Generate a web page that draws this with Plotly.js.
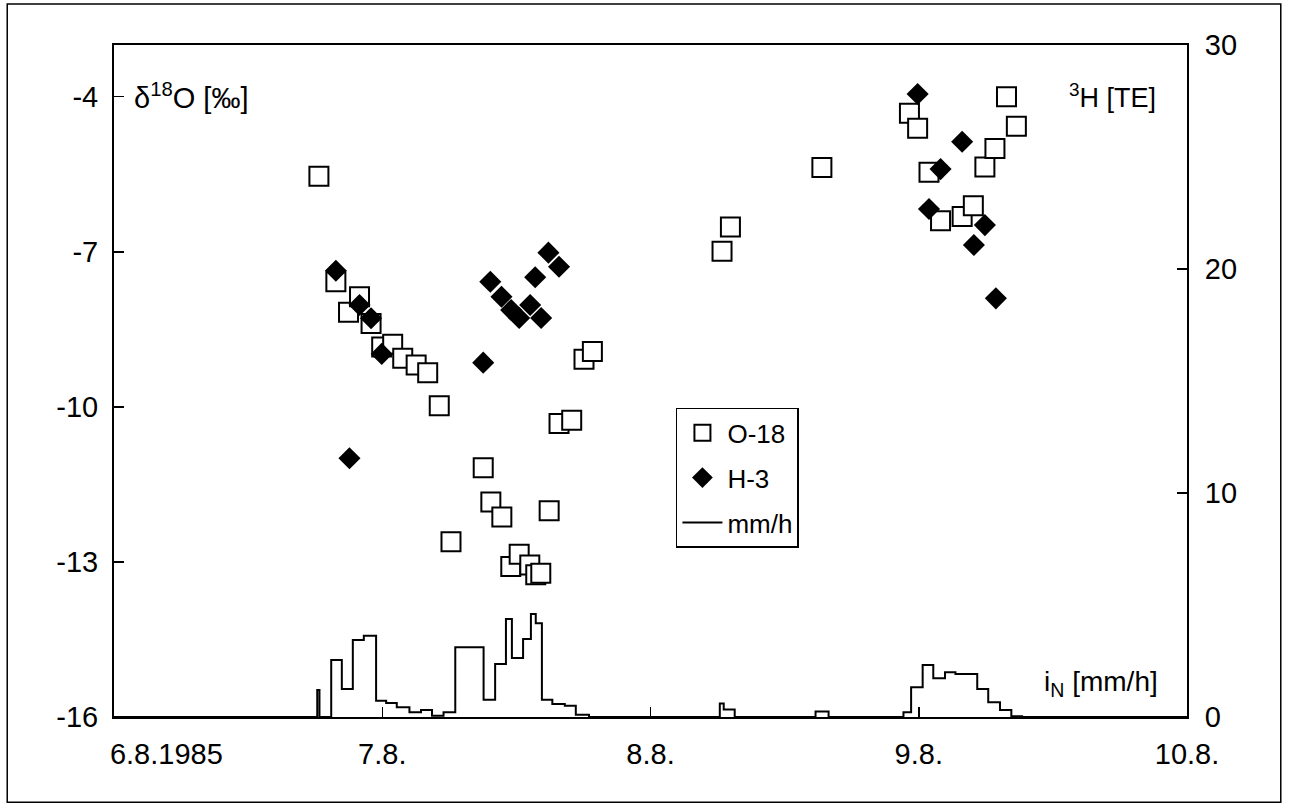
<!DOCTYPE html>
<html>
<head>
<meta charset="utf-8">
<script src="https://cdn.plot.ly/plotly-3.0.1.min.js"></script>
<style>html,body{margin:0;padding:0;background:#fff;}#chart{width:1289px;height:808px;}</style>
</head>
<body>
<div id="chart"></div>
<script>
// ---- data ----
var o18Time = ['1985-08-06 18:20','1985-08-06 19:51','1985-08-06 20:59','1985-08-06 21:58','1985-08-06 23:00','1985-08-06 23:57','1985-08-07 00:56','1985-08-07 01:50','1985-08-07 03:02','1985-08-07 04:04','1985-08-07 05:06','1985-08-07 06:09','1985-08-07 09:02','1985-08-07 09:43','1985-08-07 10:42','1985-08-07 11:30','1985-08-07 12:15','1985-08-07 13:12','1985-08-07 13:44','1985-08-07 14:11','1985-08-07 14:56','1985-08-07 15:49','1985-08-07 16:57','1985-08-07 18:03','1985-08-07 18:48','1985-08-08 06:24','1985-08-08 07:09','1985-08-08 15:20','1985-08-08 23:10','1985-08-08 23:54','1985-08-09 00:55','1985-08-09 01:57','1985-08-09 03:53','1985-08-09 04:53','1985-08-09 05:55','1985-08-09 06:49','1985-08-09 07:51','1985-08-09 08:44'];
var o18Val = [-5.54,-7.58,-8.17,-7.87,-8.39,-8.84,-8.79,-9.06,-9.19,-9.34,-9.98,-12.61,-11.18,-11.84,-12.13,-13.09,-12.85,-13.06,-13.25,-13.22,-12.01,-10.32,-10.26,-9.08,-8.93,-6.99,-6.52,-5.37,-4.32,-4.61,-5.46,-6.40,-6.32,-6.11,-5.36,-5.0,-4.0,-4.57];

var h3Time = ['1985-08-06 19:51','1985-08-06 21:04','1985-08-06 21:58','1985-08-06 23:00','1985-08-06 23:57','1985-08-07 09:02','1985-08-07 09:40','1985-08-07 10:40','1985-08-07 11:32','1985-08-07 12:15','1985-08-07 13:14','1985-08-07 13:41','1985-08-07 14:13','1985-08-07 14:52','1985-08-07 15:49','1985-08-08 23:54','1985-08-09 00:55','1985-08-09 01:57','1985-08-09 03:53','1985-08-09 04:56','1985-08-09 05:55','1985-08-09 06:54'];
var h3Val = [19.92,11.55,18.39,17.8,16.21,15.82,19.43,18.76,18.17,17.81,18.39,19.63,17.81,20.73,20.1,27.81,22.68,24.46,25.68,21.07,21.96,18.69];

var rainTime = ['1985-08-06 00:00','1985-08-06 18:11','1985-08-06 18:23','1985-08-06 19:26','1985-08-06 20:23','1985-08-06 21:22','1985-08-06 22:21','1985-08-06 23:27','1985-08-07 00:21','1985-08-07 01:18','1985-08-07 02:26','1985-08-07 03:28','1985-08-07 04:27','1985-08-07 05:29','1985-08-07 06:32','1985-08-07 09:04','1985-08-07 10:06','1985-08-07 11:04','1985-08-07 11:36','1985-08-07 12:36','1985-08-07 13:18','1985-08-07 13:44','1985-08-07 14:17','1985-08-07 15:13','1985-08-07 16:20','1985-08-07 17:19','1985-08-07 18:30','1985-08-08 06:12','1985-08-08 06:33','1985-08-08 07:32','1985-08-08 14:46','1985-08-08 15:56','1985-08-08 22:38','1985-08-08 23:19','1985-08-09 00:21','1985-08-09 01:18','1985-08-09 02:21','1985-08-09 03:17','1985-08-09 05:14','1985-08-09 06:13','1985-08-09 07:16','1985-08-09 08:17','1985-08-09 09:15','1985-08-10 00:00'];
var rainVal = [0,1.2,0,2.54,1.25,3.44,3.63,0.73,0.63,0.43,0.21,0.31,0.06,0.21,3.11,0.77,2.37,4.38,2.63,3.48,4.6,4.18,0.77,0.58,0.5,0.1,0,0.6,0.33,0,0.24,0,0.21,1.33,2.32,1.73,2.0,1.92,1.25,0.66,0.31,0.03,0,0];

var xTickVals = ['1985-08-06','1985-08-07','1985-08-08','1985-08-09','1985-08-10'];
var xTickText = ['\u00a0\u00a0\u00a0\u00a0\u00a0\u00a0\u00a0\u00a0\u00a0\u00a0\u00a0\u00a0\u00a06.8.1985','7.8.','8.8.','9.8.','10.8.'];
var yTickVals = [-16,-13,-10,-7,-4];
var yTickText = ['-16','-13','-10','-7','-4'];
var y2TickVals = [0,10,20,30];
var y2TickText = ['0','10','20','30'];

var FONT = 'Liberation Sans, Arial, sans-serif';

var traces = [
  {
    x: o18Time, y: o18Val, type: 'scatter', mode: 'markers', name: 'O-18',
    legendgroup: 'a',
    marker: {symbol: 'square', size: 19, color: '#ffffff', line: {color: '#000', width: 2}},
    yaxis: 'y'
  },
  {
    x: h3Time, y: h3Val, type: 'scatter', mode: 'markers', name: 'H-3',
    legendgroup: 'b',
    marker: {symbol: 'diamond', size: 17, color: '#000', line: {width: 0}},
    yaxis: 'y2'
  },
  {
    x: rainTime, y: rainVal, type: 'scatter', mode: 'lines', name: 'mm/h',
    legendgroup: 'c',
    line: {shape: 'hv', color: '#000', width: 2},
    yaxis: 'y2'
  }
];

var layout = {
  width: 1289, height: 808,
  margin: {l: 114, r: 102, t: 45, b: 91, pad: 0},
  paper_bgcolor: '#fff', plot_bgcolor: '#fff',
  font: {family: FONT, size: 28, color: '#000'},
  showlegend: true,
  legend: {
    x: 0.5237, y: 0.46, xanchor: 'left', yanchor: 'top',
    bordercolor: '#000', borderwidth: 1.5, bgcolor: '#fff',
    font: {family: FONT, size: 26, color: '#000'},
    traceorder: 'grouped', tracegroupgap: 8, itemwidth: 40
  },
  xaxis: {
    type: 'date', range: ['1985-08-06', '1985-08-10'],
    tickmode: 'array', tickvals: xTickVals, ticktext: xTickText,
    ticks: 'inside', ticklen: 10, tickwidth: 1.5, tickcolor: '#000',
    showline: true, linecolor: '#000', linewidth: 2, mirror: true,
    showgrid: false, zeroline: false,
    tickfont: {family: FONT, size: 29}, ticklabelstandoff: 10
  },
  yaxis: {
    range: [-16, -3], tickmode: 'array', tickvals: yTickVals, ticktext: yTickText,
    ticks: 'inside', ticklen: 10, tickwidth: 1.5, tickcolor: '#000',
    showline: true, linecolor: '#000', linewidth: 2,
    showgrid: false, zeroline: false,
    tickfont: {family: FONT, size: 29}, ticklabelstandoff: 8
  },
  yaxis2: {
    overlaying: 'y', side: 'right',
    range: [0, 30], tickmode: 'array', tickvals: y2TickVals, ticktext: y2TickText,
    ticks: 'inside', ticklen: 10, tickwidth: 1.5, tickcolor: '#000',
    showline: true, linecolor: '#000', linewidth: 2,
    showgrid: false, zeroline: false,
    tickfont: {family: FONT, size: 29}, ticklabelstandoff: 10
  },
  annotations: [
    {xref: 'paper', yref: 'paper', x: 0.0167, y: 0.924, xanchor: 'left', yanchor: 'middle',
     text: 'δ<sup>18</sup>O [‰]', showarrow: false, font: {family: FONT, size: 29}},
    {xref: 'paper', yref: 'paper', x: 0.973, y: 0.924, xanchor: 'right', yanchor: 'middle',
     text: '<sup>3</sup>H [TE]', showarrow: false, font: {family: FONT, size: 27}},
    {xref: 'paper', yref: 'paper', x: 0.9747, y: 0.05, xanchor: 'right', yanchor: 'middle',
     text: 'i<sub>N</sub> [mm/h]', showarrow: false, font: {family: FONT, size: 28}}
  ],
  shapes: [
    {type: 'rect', xref: 'paper', yref: 'paper',
     x0: -0.0995, x1: 1.0874, y0: -0.127, y1: 1.061,
     line: {color: '#000', width: 1.5}, fillcolor: 'rgba(0,0,0,0)', layer: 'below'}
  ]
};

Plotly.newPlot('chart', traces, layout, {displayModeBar: false, staticPlot: true});
</script>
</body>
</html>
